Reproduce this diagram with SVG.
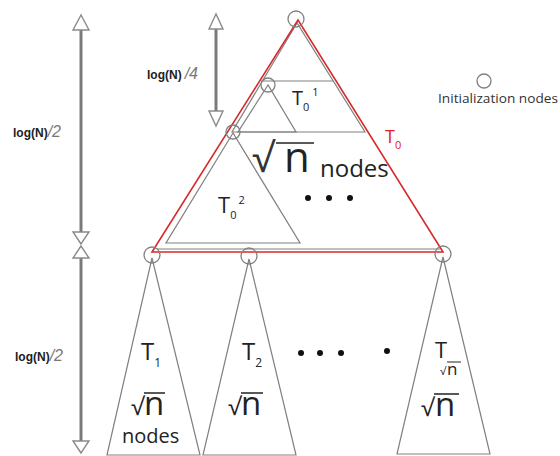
<svg xmlns="http://www.w3.org/2000/svg" width="560" height="456" viewBox="0 0 560 456">
<style>
.tri{fill:none;stroke:#808080;stroke-width:1.2}
.red{fill:none;stroke:#d82a2a;stroke-width:1.6}
.node{fill:none;stroke:#808080;stroke-width:1.3}
.shaft{stroke:#7a7a7a;stroke-width:3}
.head{fill:#fff;stroke:#8a8a8a;stroke-width:1.4}
.lbl{font-family:"Liberation Sans",Arial,sans-serif;font-weight:bold;font-size:12px;fill:#222}
.frac{font-family:"Liberation Sans",Arial,sans-serif;font-style:italic;font-size:16px;fill:#777}
.t{font-family:"Open Sans","DejaVu Sans",sans-serif;fill:#222}
.dot{fill:#111}
</style>
<rect width="560" height="456" fill="#fff"/>

<g id="arrows">
  <line class="shaft" x1="81" y1="30" x2="81" y2="232"/>
  <polygon class="head" points="81,15 73,30 89,30"/>
  <polygon class="head" points="81,244 73,232 89,232"/>
  <line class="shaft" x1="81" y1="258" x2="81" y2="441"/>
  <polygon class="head" points="81,246 73,258 89,258"/>
  <polygon class="head" points="81,453 73,441 89,441"/>
  <line class="shaft" x1="216" y1="29" x2="216" y2="111"/>
  <polygon class="head" points="216,14 209,29 223,29"/>
  <polygon class="head" points="216,126 209,111 223,111"/>
</g>

<g id="labels-left">
  <text x="13" y="137"><tspan class="lbl">log(N)</tspan><tspan class="frac">/2</tspan></text>
  <text x="15" y="361"><tspan class="lbl">log(N)</tspan><tspan class="frac">/2</tspan></text>
  <text x="147" y="79"><tspan class="lbl">log(N)</tspan><tspan class="frac" dx="3">/4</tspan></text>
</g>

<g id="T0">
  <polygon class="tri" points="297,23 232,132 365,132"/>
  <line class="tri" x1="261" y1="81" x2="333" y2="81"/>
  <polygon class="tri" points="268,85 238,132 296,132"/>
  <polygon class="tri" points="233,133 166,243 300,243"/>
  <line class="tri" x1="157" y1="249" x2="440" y2="249"/>
  <polygon class="red" points="298,20 152,252 443,252"/>
  <text class="t" x="385" y="143" font-size="18" style="fill:#e02020">T<tspan font-size="11" dy="6">0</tspan></text>
</g>

<g id="T0-1">
  <text class="t" x="292" y="105" font-size="20">T<tspan font-size="11" dy="6">0</tspan><tspan font-size="11" dx="3" dy="-15">1</tspan></text>
</g>
<g id="T0-2">
  <text class="t" x="218" y="213" font-size="22">T<tspan font-size="11" dy="6">0</tspan><tspan font-size="11" dx="2" dy="-15">2</tspan></text>
</g>

<g id="sqrt-nodes-top">
  <text class="t" x="252" y="172" font-size="40" font-family="DejaVu Sans" style="fill:#333">√</text>
  <line x1="276" y1="143" x2="314" y2="143" stroke="#222" stroke-width="1.6"/>
  <text class="t" x="284" y="172" font-size="42">n</text>
  <text class="t" x="320" y="177" font-size="24">nodes</text>
  <circle class="dot" cx="308" cy="198" r="3"/>
  <circle class="dot" cx="329" cy="198" r="3"/>
  <circle class="dot" cx="350" cy="198" r="3"/>
</g>

<g id="init-nodes">
  <circle class="node" cx="296" cy="19" r="8"/>
  <circle class="node" cx="268" cy="85" r="7"/>
  <circle class="node" cx="233" cy="132" r="7"/>
  <circle class="node" cx="152" cy="255" r="8"/>
  <circle class="node" cx="249" cy="256" r="8"/>
  <circle class="node" cx="443" cy="254" r="8"/>
</g>

<g id="T1">
  <polygon class="tri" points="152,258 107,455 200,455"/>
  <text class="t" x="141" y="360" font-size="24">T<tspan font-size="12" dy="7">1</tspan></text>
  <text class="t" x="131" y="415" font-size="24" font-family="DejaVu Sans">√</text>
  <line x1="144" y1="393" x2="165" y2="393" stroke="#222" stroke-width="1.5"/>
  <text class="t" x="144" y="415" font-size="33">n</text>
  <text class="t" x="122" y="443" font-size="20">nodes</text>
</g>

<g id="T2">
  <polygon class="tri" points="249,259 203,455 296,455"/>
  <text class="t" x="242" y="360" font-size="24">T<tspan font-size="12" dy="7">2</tspan></text>
  <text class="t" x="228" y="415" font-size="24" font-family="DejaVu Sans">√</text>
  <line x1="241" y1="393" x2="263" y2="393" stroke="#222" stroke-width="1.5"/>
  <text class="t" x="241" y="415" font-size="33">n</text>
</g>

<g id="dots-bottom">
  <circle class="dot" cx="301" cy="353" r="3"/>
  <circle class="dot" cx="320" cy="353" r="3"/>
  <circle class="dot" cx="341" cy="353" r="3"/>
  <circle class="dot" cx="387" cy="351" r="3"/>
</g>

<g id="Tsqrtn">
  <polygon class="tri" points="443,257 397,454 490,454"/>
  <text class="t" x="435" y="358" font-size="22">T</text>
  <text class="t" x="440" y="375" font-size="11" font-family="DejaVu Sans">√</text>
  <line x1="447" y1="362" x2="461" y2="362" stroke="#222" stroke-width="1"/>
  <text class="t" x="447" y="375" font-size="17">n</text>
  <text class="t" x="421" y="416" font-size="24" font-family="DejaVu Sans">√</text>
  <line x1="434" y1="394" x2="459" y2="394" stroke="#222" stroke-width="1.5"/>
  <text class="t" x="435" y="416" font-size="33">n</text>
</g>

<g id="legend">
  <circle class="node" cx="484" cy="81" r="7"/>
  <text class="t" x="438" y="103" font-size="12" textLength="120" lengthAdjust="spacingAndGlyphs" style="fill:#333">Initialization nodes</text>
</g>
</svg>
